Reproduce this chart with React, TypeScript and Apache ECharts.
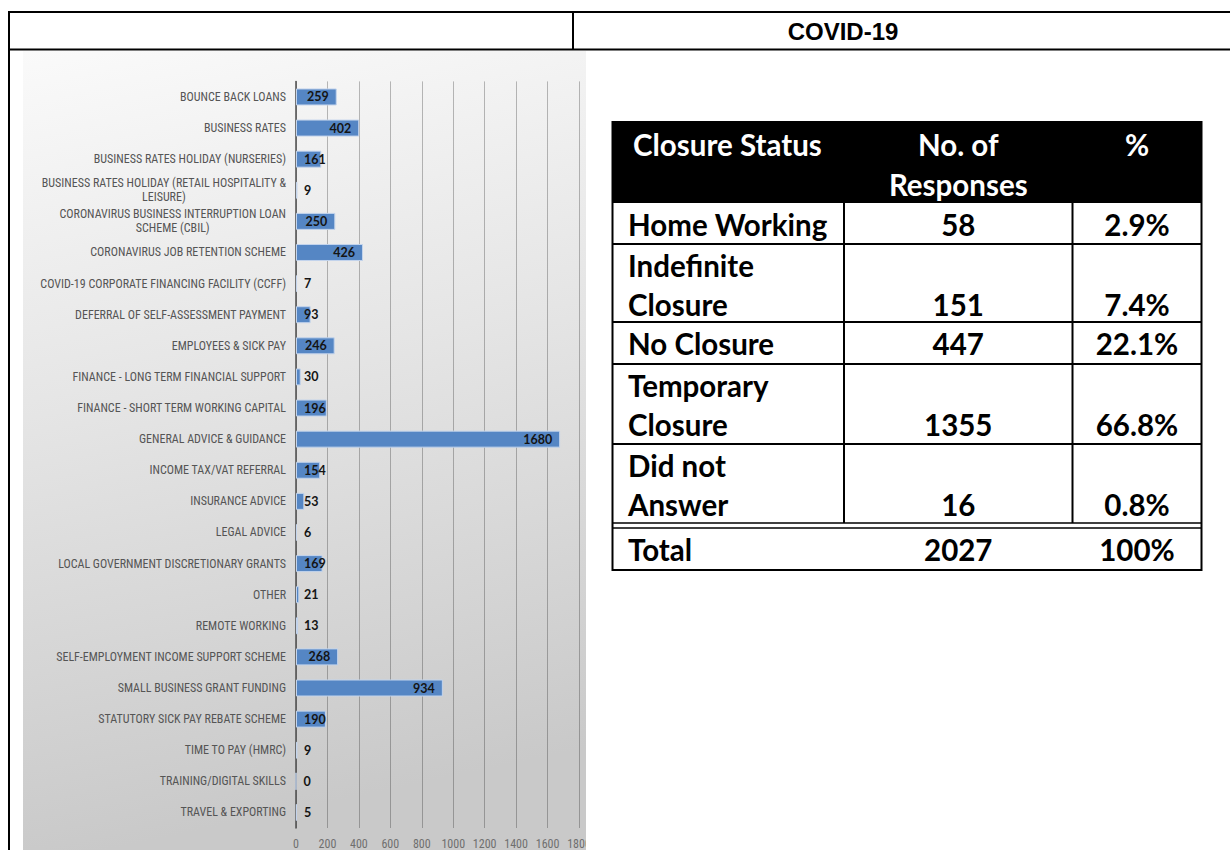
import React, { useEffect, useRef } from 'react';
import * as echarts from 'echarts';

// ---------- Data ----------
const pageTitle = 'COVID-19';

const categories = [
  'BOUNCE BACK LOANS',
  'BUSINESS RATES',
  'BUSINESS RATES HOLIDAY (NURSERIES)',
  'BUSINESS RATES HOLIDAY (RETAIL HOSPITALITY &\nLEISURE)',
  'CORONAVIRUS BUSINESS INTERRUPTION LOAN\nSCHEME (CBIL)',
  'CORONAVIRUS JOB RETENTION SCHEME',
  'COVID-19 CORPORATE FINANCING FACILITY (CCFF)',
  'DEFERRAL OF SELF-ASSESSMENT PAYMENT',
  'EMPLOYEES & SICK PAY',
  'FINANCE - LONG TERM FINANCIAL SUPPORT',
  'FINANCE - SHORT TERM WORKING CAPITAL',
  'GENERAL ADVICE & GUIDANCE',
  'INCOME TAX/VAT REFERRAL',
  'INSURANCE ADVICE',
  'LEGAL ADVICE',
  'LOCAL GOVERNMENT DISCRETIONARY GRANTS',
  'OTHER',
  'REMOTE WORKING',
  'SELF-EMPLOYMENT INCOME SUPPORT SCHEME',
  'SMALL BUSINESS GRANT FUNDING',
  'STATUTORY SICK PAY REBATE SCHEME',
  'TIME TO PAY (HMRC)',
  'TRAINING/DIGITAL SKILLS',
  'TRAVEL & EXPORTING',
];

const enquiries = [259, 402, 161, 9, 250, 426, 7, 93, 246, 30, 196, 1680, 154, 53, 6, 169, 21, 13, 268, 934, 190, 9, 0, 5];

const xAxisMin = 0;
const xAxisMax = 1800;
const xAxisStep = 200;

const tableHeaders = ['Closure Status', 'No. of\nResponses', '%'];
const closureStatus = ['Home Working', 'Indefinite\nClosure', 'No Closure', 'Temporary\nClosure', 'Did not\nAnswer'];
const responses = [58, 151, 447, 1355, 16];
const percentages = ['2.9%', '7.4%', '22.1%', '66.8%', '0.8%'];
const totalLabel = 'Total';
const totalResponses = 2027;
const totalPercent = '100%';

// ---------- Layout / style ----------
const CAT_FONT = "'Liberation Sans Narrow', 'Roboto Condensed', 'DejaVu Sans Condensed', sans-serif";
const TABLE_FONT = "Lato, 'Open Sans', sans-serif";
const T = { left: 612.5, c1: 844, c2: 1072.5, right: 1201.5, top: 122, headBottom: 203 };
const rowBounds = [203, 244, 322, 364, 444, 523];
const totalTop = 528;
const totalBottom = 570;
const LINE_H = 38.5;
const TABLE_FS = 29.5;

function buildGraphic() {
  const els: any[] = [];
  // chart picture background
  els.push({
    type: 'rect',
    z: -10,
    shape: { x: 23, y: 51, width: 563, height: 799 },
    style: {
      fill: new echarts.graphic.LinearGradient(0, 0, 0.15, 1, [
        { offset: 0, color: '#fafafa' },
        { offset: 0.45, color: '#e5e5e5' },
        { offset: 1, color: '#c9c9c9' },
      ]),
    },
  });
  // clip of last tick label (picture edge)
  els.push({
    type: 'rect',
    z: 100,
    shape: { x: 586, y: 830, width: 24, height: 20 },
    style: { fill: '#ffffff' },
  });
  // outer page table lines
  const L = (x1: number, y1: number, x2: number, y2: number, w = 2) => ({
    type: 'line',
    z: 50,
    shape: { x1, y1, x2, y2 },
    style: { stroke: '#000', lineWidth: w },
  });
  els.push(L(8, 12, 1230, 12));
  els.push(L(8, 49.5, 1230, 49.5));
  els.push(L(9, 11, 9, 850));
  els.push(L(573, 12, 573, 49.5));
  els.push({
    type: 'text',
    z: 50,
    style: {
      text: pageTitle,
      x: 843,
      y: 31,
      align: 'center',
      verticalAlign: 'middle',
      fontFamily: "'Liberation Sans', Arial, sans-serif",
      fontWeight: 'bold',
      fontSize: 24,
      fill: '#000',
    },
  });

  // ---- Closure status table ----
  els.push({
    type: 'rect',
    z: 40,
    shape: { x: T.left, y: T.top, width: T.right - T.left, height: T.headBottom - T.top },
    style: { fill: '#000' },
  });
  els.push({
    type: 'rect',
    z: 50,
    shape: { x: T.left, y: T.top, width: T.right - T.left, height: totalBottom - T.top },
    style: { fill: 'none', stroke: '#000', lineWidth: 2 },
  });
  for (let i = 1; i < rowBounds.length - 1; i++) {
    els.push(L(T.left, rowBounds[i], T.right, rowBounds[i], 2));
  }
  els.push(L(T.left, rowBounds[rowBounds.length - 1], T.right, rowBounds[rowBounds.length - 1], 1.5));
  els.push(L(T.left, totalTop, T.right, totalTop, 1.5));
  els.push(L(T.c1, T.headBottom, T.c1, rowBounds[rowBounds.length - 1], 2));
  els.push(L(T.c2, T.headBottom, T.c2, rowBounds[rowBounds.length - 1], 2));

  const txt = (text: string, x: number, y: number, align: string, fill = '#000', lh = LINE_H) => ({
    type: 'text',
    z: 60,
    style: {
      text,
      x,
      y,
      align,
      verticalAlign: 'top',
      fontFamily: TABLE_FONT,
      fontWeight: 'bold',
      fontSize: TABLE_FS,
      lineHeight: lh,
      fill,
    },
  });
  const colC1 = (T.c1 + T.c2) / 2;
  const colC2 = (T.c2 + T.right) / 2;
  const HEAD_LH = 40;
  els.push(txt(tableHeaders[0], 633, 144 - HEAD_LH / 2, 'left', '#fff', HEAD_LH));
  els.push(txt(tableHeaders[1], colC1, 144 - HEAD_LH / 2, 'center', '#fff', HEAD_LH));
  els.push(txt(tableHeaders[2], colC2, 144 - HEAD_LH / 2, 'center', '#fff', HEAD_LH));

  closureStatus.forEach((name, i) => {
    const top = rowBounds[i];
    const firstCenter = top + 21.5;
    const nLines = name.split('\n').length;
    const lastCenter = firstCenter + (nLines - 1) * LINE_H;
    els.push(txt(name, 628, firstCenter - LINE_H / 2, 'left'));
    els.push(txt(String(responses[i]), colC1, lastCenter - LINE_H / 2, 'center'));
    els.push(txt(percentages[i], colC2, lastCenter - LINE_H / 2, 'center'));
  });
  const tc = totalTop + 21;
  els.push(txt(totalLabel, 628, tc - LINE_H / 2, 'left'));
  els.push(txt(String(totalResponses), colC1, tc - LINE_H / 2, 'center'));
  els.push(txt(totalPercent, colC2, tc - LINE_H / 2, 'center'));
  return els;
}

function buildOption() {
  const gridTop = 81.4;
  const gridBottomY = 828.6;
  return {
    animation: false,
    backgroundColor: '#ffffff',
    grid: {
      left: 296,
      width: 283,
      top: gridTop,
      height: gridBottomY - gridTop,
      containLabel: false,
    },
    xAxis: {
      type: 'value',
      min: xAxisMin,
      max: xAxisMax,
      interval: xAxisStep,
      axisLine: { show: false },
      axisTick: { show: false },
      splitLine: { show: true, lineStyle: { color: 'rgba(0,0,0,0.26)', width: 1 } },
      axisLabel: {
        color: '#6f6f6f',
        fontFamily: CAT_FONT,
        fontSize: 12,
        margin: 10,
        showMaxLabel: true,
        formatter: (v: number) => String(v),
      },
    },
    yAxis: {
      type: 'category',
      inverse: true,
      data: categories,
      axisTick: { show: false },
      axisLine: { show: true, lineStyle: { color: '#4d4d4d', width: 1.5 } },
      axisLabel: {
        color: '#555555',
        fontFamily: CAT_FONT,
        fontSize: 12,
        margin: 10,
        interval: 0,
        lineHeight: 14,
        formatter: (v: string) =>
          v.includes('\n') ? v.split('\n').map((s) => `{c|${s}}`).join('\n') : v,
        rich: {
          c: {
            align: 'center',
            color: '#555555',
            fontFamily: CAT_FONT,
            fontSize: 12,
            lineHeight: 14,
          },
        },
      },
    },
    series: [
      {
        type: 'bar',
        barWidth: 17,
        data: enquiries.map((v) => ({
          value: v,
          label: { position: v >= 220 ? 'insideRight' : 'insideLeft' },
        })),
        itemStyle: {
          color: '#5586c4',
          borderColor: '#c3d4ec',
          borderWidth: 1,
        },
        label: {
          show: true,
          distance: 8,
          color: '#141414',
          fontFamily: TABLE_FONT,
          fontWeight: 'bold',
          fontSize: 12.5,
        },
      },
    ],
    graphic: { elements: buildGraphic() },
  };
}

export default function App() {
  const ref = useRef<HTMLDivElement>(null);
  useEffect(() => {
    if (!ref.current) return;
    const chart = echarts.init(ref.current, null, { renderer: 'svg' });
    chart.setOption(buildOption() as any);
    return () => chart.dispose();
  }, []);
  return (
    <div
      ref={ref}
      style={{ position: 'absolute', left: 0, top: 0, width: 1230, height: 850, background: '#fff' }}
    />
  );
}
